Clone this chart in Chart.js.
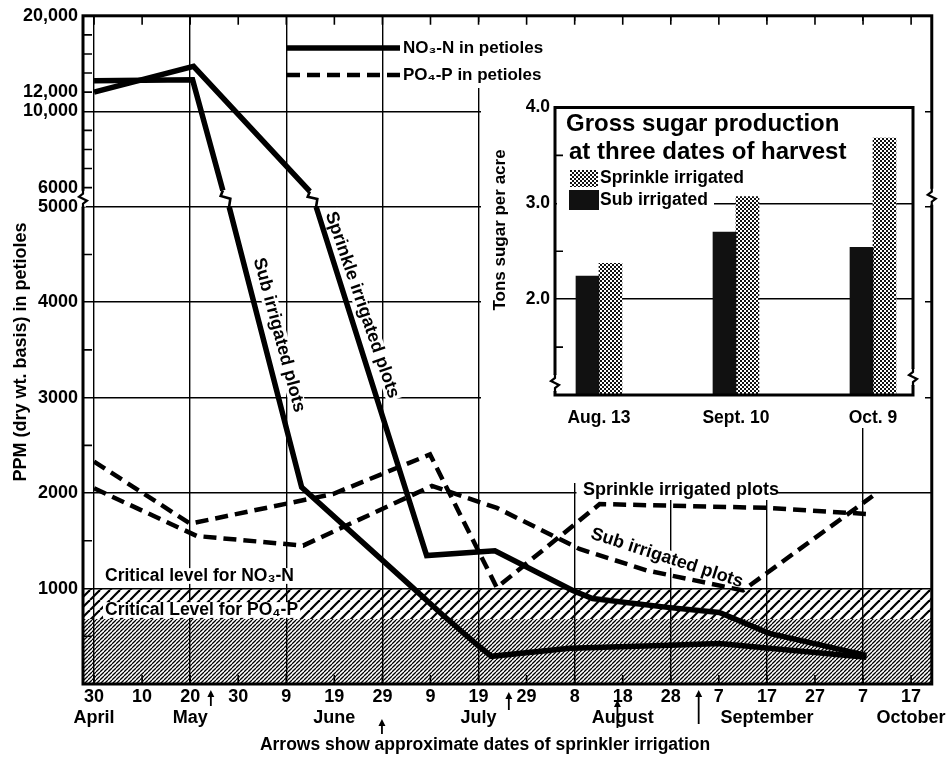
<!DOCTYPE html>
<html><head><meta charset="utf-8">
<script src="https://cdn.jsdelivr.net/npm/chart.js@4.4.1/dist/chart.umd.min.js"></script>
<style>
html,body{margin:0;padding:0;background:#fff;}
#wrap{position:relative;width:948px;height:761px;overflow:hidden;}
#main{position:absolute;left:0;top:0;}
#inset{position:absolute;left:480px;top:92px;}
</style></head><body>
<div id="wrap"><canvas id="main" width="948" height="761"></canvas><canvas id="inset" width="448" height="336"></canvas></div>
<script>
// ---------------- DATA (main chart) ----------------
// x = days after 30 April
const X_TICK_DAYS = [0,10,20,30,40,50,60,70,80,90,100,110,120,130,140,150,160,170];
const X_DAY_LABELS = ['30','10','20','30','9','19','29','9','19','29','8','18','28','7','17','27','7','17'];
const X_MONTH_LABELS = ['April','','May','','','June','','','July','','','August','','','September','','','October'];
const X_GRID_DAYS = [0,20,40,60,80,100,120,140,160];
const Y_LABEL_VALUES = [1000,2000,3000,4000,5000,6000,10000,12000,20000];
const Y_LABELS = ['1000','2000','3000','4000','5000','6000','10,000','12,000','20,000'];
const Y_GRID_VALUES = [1000,2000,3000,4000,5000,10000];
const Y_MINOR_VALUES = [500,1500,2500,3500,4500,6000,7000,8000,9000,12000,14000,16000,18000];
const Y_SEGMENTS = [[0,5000],[5000,10000],[10000,20000]]; // broken axis
const Y_SEGMENT_WEIGHTS = [5,1,1];                           // relative heights
const Y_BREAK = 5000;
const CRIT_NO3 = 1000;
const CRIT_PO4 = 680;

const NO3_SUB_DAYS = [0,20.5,26.8,28.1,43.2,66.3,72.6,80.2,82.7,99,119.8,130.1,140.5,160.7];
const NO3_SUB_PPM  = [13200,13300,5850,5000,2060,1010,720,390,290,375,405,425,375,280];
const NO3_SPR_DAYS = [0,20.7,44.9,46.2,69.2,83.4,99.6,103.7,119.8,130.1,140.5,160.7];
const NO3_SPR_PPM  = [12000,14700,5800,5000,1345,1395,980,895,800,750,530,300];
const PO4_SPR_DAYS = [0,20,49.7,69.9,83.8,105.2,139.9,161.3];
const PO4_SPR_PPM  = [2330,1680,1990,2405,1010,1885,1845,1780];
const PO4_SUB_DAYS = [0,21.4,43.5,70.3,83.8,101,115,135,162];
const PO4_SUB_PPM  = [2050,1550,1450,2075,1845,1415,1190,980,1970];
const LEGEND_LABELS = ['NO₃-N in petioles','PO₄-P in petioles'];

const SPRINKLER_DAYS = [24.3,59.9,86.3,108.9,125.8];

// ---------------- DATA (inset) ----------------
const HARVEST_DATES = ['Aug. 13','Sept. 10','Oct. 9'];
const SUGAR_SUB = [2.24,2.70,2.54];
const SUGAR_SPRINKLE = [2.375,3.07,3.68];
const INSET_Y_TICKS = [1.5,2.0,2.5,3.0,3.5,4.0];
const INSET_Y_LABELED = [2.0,3.0,4.0];
const INSET_Y_GRID = [2.0,3.0];
const INSET_LEGEND = ['Sprinkle irrigated','Sub irrigated'];
const INSET_TITLE = ['Gross sugar production','at three dates of harvest'];

// ---------------- STYLE / LAYOUT ----------------
const FONT = '"Liberation Sans", Arial, "DejaVu Sans", sans-serif';
const font = s => `bold ${s}px ${FONT}`;
const ARROW_SPANS = [[690,706],[719,734],[692,710],[700,728],[690,724]]; // tip,tail y (px)
const ANNOTATIONS = [
  {text:'Sub irrigated plots', x:279, y:335, angle:75, size:18, align:'center'},
  {text:'Sprinkle irrigated plots', x:362, y:305, angle:71, size:18, align:'center'},
  {text:'Sprinkle irrigated plots', x:583, y:490, angle:0, size:18, align:'left', nobg:true},
  {text:'Sub irrigated plots', x:667, y:558, angle:18, size:18, align:'center'},
  {text:'Critical level for NO₃-N', x:105, y:576, angle:0, size:17.5, align:'left'},
  {text:'Critical Level for PO₄-P', x:105, y:610, angle:0, size:17.5, align:'left'},
];

const zip = (xs, ys) => xs.map((x,i) => ({x, y: ys[i]}));
const W_TOTAL = Y_SEGMENT_WEIGHTS.reduce((s,w) => s+w, 0);

function toT(v){
  let acc = 0;
  for (let i=0;i<Y_SEGMENTS.length;i++){
    const [lo,hi] = Y_SEGMENTS[i], w = Y_SEGMENT_WEIGHTS[i];
    if (v <= hi || i === Y_SEGMENTS.length-1) return acc + w*(v-lo)/(hi-lo);
    acc += w;
  }
}
function fromT(t){
  let acc = 0;
  for (let i=0;i<Y_SEGMENTS.length;i++){
    const [lo,hi] = Y_SEGMENTS[i], w = Y_SEGMENT_WEIGHTS[i];
    if (t <= acc + w || i === Y_SEGMENTS.length-1) return lo + (t-acc)/w*(hi-lo);
    acc += w;
  }
}
class BrokenScale extends Chart.LinearScale {
  static id = 'broken';
  static defaults = Chart.LinearScale.defaults;
  determineDataLimits(){ this.min = 0; this.max = W_TOTAL; }
  buildTicks(){ return Y_LABEL_VALUES.map(v => ({value:v})); }
  getPixelForValue(v){ return v == null ? NaN : super.getPixelForValue(toT(v)); }
  getValueForPixel(p){ return fromT(super.getValueForPixel(p)); }
}
Chart.register(BrokenScale);

const mainCanvas = document.getElementById('main');
const mctx = mainCanvas.getContext('2d');
const insetCanvas = document.getElementById('inset');
const ictx = insetCanvas.getContext('2d');

function hatch(ctx, p, lw){
  const c = document.createElement('canvas'); c.width = c.height = p;
  const g = c.getContext('2d'); g.strokeStyle = '#000'; g.lineWidth = lw;
  for (let k=-1;k<=1;k++){ g.beginPath(); g.moveTo(k*p, p); g.lineTo(k*p+p, 0); g.stroke(); }
  return ctx.createPattern(c, 'repeat');
}
function stipple(ctx){
  const c = document.createElement('canvas'); c.width = c.height = 4;
  const g = c.getContext('2d'); g.fillStyle = '#fff'; g.fillRect(0,0,4,4);
  g.fillStyle = '#111'; g.fillRect(0,0,2,2); g.fillRect(2,2,2,2);
  return ctx.createPattern(c, 'repeat');
}
const lightHatch = hatch(mctx, 10, 2.2);
const darkHatch = hatch(mctx, 4, 1.25);
const stip = stipple(ictx);

function axisZig(ctx, x, y){
  ctx.save();
  ctx.fillStyle = '#fff'; ctx.fillRect(x-3, y-8, 6, 16);
  ctx.strokeStyle = '#000'; ctx.lineWidth = 2.2; ctx.lineJoin = 'miter';
  ctx.beginPath();
  ctx.moveTo(x, y-9); ctx.lineTo(x, y-5); ctx.lineTo(x-4, y-2); ctx.lineTo(x+4, y+2); ctx.lineTo(x, y+5); ctx.lineTo(x, y+9);
  ctx.stroke(); ctx.restore();
}
function lineZig(ctx, p1, p2){
  const dx = p2.x-p1.x, dy = p2.y-p1.y, L = Math.hypot(dx,dy) || 1;
  const nx = -dy/L, ny = dx/L;
  ctx.save(); ctx.strokeStyle = '#000'; ctx.lineWidth = 2.6;
  ctx.beginPath();
  ctx.moveTo(p1.x, p1.y);
  ctx.lineTo(p1.x + dx*0.25 + nx*4, p1.y + dy*0.25 + ny*4);
  ctx.lineTo(p1.x + dx*0.6 - nx*4, p1.y + dy*0.6 - ny*4);
  ctx.lineTo(p2.x, p2.y);
  ctx.stroke(); ctx.restore();
}
function drawLabel(ctx, a, phase){
  ctx.save();
  ctx.translate(a.x, a.y); ctx.rotate((a.angle||0)*Math.PI/180);
  ctx.font = font(a.size); ctx.textAlign = a.align || 'left'; ctx.textBaseline = 'middle';
  const w = ctx.measureText(a.text).width;
  if (phase === 'bg'){
    if (!a.nobg){
      const x0 = a.align === 'center' ? -w/2 : a.align === 'right' ? -w : 0;
      ctx.fillStyle = '#fff'; ctx.fillRect(x0-2, -a.size*0.45, w+4, a.size*0.9);
    }
  } else { ctx.fillStyle = '#000'; ctx.fillText(a.text, 0, 0); }
  ctx.restore();
}

const isBreak = c => c.p0.parsed.y > Y_BREAK && c.p1.parsed.y <= Y_BREAK;

const mainDeco = {
  id: 'mainDeco',
  beforeDraw(chart){
    const {ctx, chartArea:a, scales:{y}} = chart;
    ctx.save();
    ctx.fillStyle = '#fff'; ctx.fillRect(0,0,chart.width,chart.height);
    const yN = y.getPixelForValue(CRIT_NO3), yP = y.getPixelForValue(CRIT_PO4), y0 = y.getPixelForValue(0);
    ctx.fillStyle = lightHatch; ctx.fillRect(a.left, yN, a.right-a.left, y0-yN);
    ctx.fillStyle = '#fff'; ctx.fillRect(a.left, yP, a.right-a.left, y0-yP);
    ctx.fillStyle = darkHatch; ctx.fillRect(a.left, yP, a.right-a.left, y0-yP);
    ctx.restore();
  },
  beforeDatasetsDraw(chart){
    const {ctx, chartArea:a, scales:{x,y}} = chart;
    ctx.save();
    ctx.fillStyle = '#fff';
    ctx.fillRect(400, 22, 160, 66);     // legend text area
    ctx.fillRect(481, 21, 444, 407);    // inset area
    ctx.fillRect(565, 428, 213, 55);    // label area
    ctx.fillRect(576.5, 483, 201.5, 17);
    ANNOTATIONS.forEach(an => drawLabel(ctx, an, 'bg'));
    // minor ticks
    ctx.strokeStyle = '#000'; ctx.lineWidth = 1.6;
    ctx.beginPath();
    Y_MINOR_VALUES.forEach(v => { const py = y.getPixelForValue(v); ctx.moveTo(a.left, py); ctx.lineTo(a.left+9, py); });
    X_TICK_DAYS.forEach(d => { const px = x.getPixelForValue(d);
      ctx.moveTo(px, a.top); ctx.lineTo(px, a.top+9);
      ctx.moveTo(px, a.bottom); ctx.lineTo(px, a.bottom-9); });
    ctx.stroke();
    // frame
    ctx.lineWidth = 3; ctx.strokeRect(a.left, a.top, a.right-a.left, a.bottom-a.top);
    const yb = y.getPixelForValue(Y_BREAK) - 8;
    axisZig(ctx, a.left, yb);
    axisZig(ctx, a.right, yb - 2);
    ctx.restore();
  },
  afterDatasetsDraw(chart){
    const {ctx, chartArea:a, scales:{x,y}} = chart;
    ctx.save();
    // break marks on the lines
    chart.data.datasets.forEach((ds, di) => {
      if (ds.borderDash && ds.borderDash.length) return;
      const pts = chart.getDatasetMeta(di).data;
      for (let i=1;i<ds.data.length;i++){
        if (ds.data[i-1].y > Y_BREAK && ds.data[i].y <= Y_BREAK) lineZig(ctx, pts[i-1], pts[i]);
      }
    });
    ANNOTATIONS.forEach(an => drawLabel(ctx, an, 'fg'));
    // legend
    const dsN = chart.data.datasets[0], dsP = chart.data.datasets[2];
    [[dsN, 48, LEGEND_LABELS[0]], [dsP, 75, LEGEND_LABELS[1]]].forEach(([ds, ly, txt]) => {
      ctx.save(); ctx.strokeStyle = ds.borderColor; ctx.lineWidth = ds.borderWidth;
      ctx.setLineDash(ds.borderDash || []);
      ctx.beginPath(); ctx.moveTo(287, ly); ctx.lineTo(400, ly); ctx.stroke(); ctx.restore();
      ctx.font = font(17); ctx.fillStyle = '#000'; ctx.textBaseline = 'middle'; ctx.textAlign = 'left';
      ctx.fillText(txt, 403, ly);
    });
    // arrows for sprinkler irrigation
    ctx.strokeStyle = '#000'; ctx.fillStyle = '#000'; ctx.lineWidth = 1.8;
    SPRINKLER_DAYS.forEach((d, i) => {
      const px = x.getPixelForValue(d), [tip, tail] = ARROW_SPANS[i];
      ctx.beginPath(); ctx.moveTo(px, tail); ctx.lineTo(px, tip+4); ctx.stroke();
      ctx.beginPath(); ctx.moveTo(px, tip); ctx.lineTo(px-3.5, tip+7); ctx.lineTo(px+3.5, tip+7); ctx.closePath(); ctx.fill();
    });
    // axis titles
    ctx.font = font(17.5); ctx.textAlign = 'center'; ctx.textBaseline = 'middle';
    ctx.fillText('Arrows show approximate dates of sprinkler irrigation', 485, 745);
    ctx.save(); ctx.translate(21, 352); ctx.rotate(-Math.PI/2);
    ctx.font = font(18); ctx.fillText('PPM (dry wt. basis) in petioles', 0, 0); ctx.restore();
    ctx.restore();
  }
};

const solid = {borderColor:'#000', borderWidth:5.5, borderDash:[], segment:{borderColor: c => isBreak(c) ? 'rgba(0,0,0,0)' : undefined}};
const dashed = {borderColor:'#000', borderWidth:4.5, borderDash:[13,7]};

new Chart(mainCanvas, {
  type: 'line',
  data: { datasets: [
    Object.assign({label:'NO3-N sub irrigated', data: zip(NO3_SUB_DAYS, NO3_SUB_PPM)}, solid),
    Object.assign({label:'NO3-N sprinkle irrigated', data: zip(NO3_SPR_DAYS, NO3_SPR_PPM)}, solid),
    Object.assign({label:'PO4-P sprinkle irrigated', data: zip(PO4_SPR_DAYS, PO4_SPR_PPM)}, dashed),
    Object.assign({label:'PO4-P sub irrigated', data: zip(PO4_SUB_DAYS, PO4_SUB_PPM)}, dashed),
  ]},
  options: {
    responsive:false, animation:false, devicePixelRatio:1,
    layout:{padding:{top:12, right:16, left:0, bottom:0}},
    plugins:{legend:{display:false}, tooltip:{enabled:false}},
    elements:{point:{radius:0, hoverRadius:0}, line:{tension:0, borderCapStyle:'butt', borderJoinStyle:'miter', fill:false}},
    scales:{
      x:{type:'linear', min:-2.3, max:174.3,
        afterBuildTicks: s => { s.ticks = X_TICK_DAYS.map(v => ({value:v})); },
        afterFit: s => { s.height = 77; },
        ticks:{autoSkip:false, maxRotation:0, minRotation:0, padding:2, color:'#000',
          font:{family:FONT, size:18, weight:'bold'}, lineHeight:1.18,
          callback: v => { const i = X_TICK_DAYS.indexOf(v); if (i<0) return '';
            return X_MONTH_LABELS[i] ? [X_DAY_LABELS[i], X_MONTH_LABELS[i]] : X_DAY_LABELS[i]; }},
        grid:{drawTicks:false, lineWidth:1.4, color: c => (c.tick && X_GRID_DAYS.includes(c.tick.value)) ? '#000' : 'rgba(0,0,0,0)'},
        border:{display:false}
      },
      y:{type:'broken', position:'left',
        afterFit: s => { s.width = 83; },
        ticks:{autoSkip:false, padding:5, color:'#000', font:{family:FONT, size:18, weight:'bold'},
          callback: v => { const i = Y_LABEL_VALUES.indexOf(v); return i<0 ? '' : Y_LABELS[i]; }},
        grid:{drawTicks:false, lineWidth:1.4, color: c => (c.tick && Y_GRID_VALUES.includes(c.tick.value)) ? '#000' : 'rgba(0,0,0,0)'},
        border:{display:false}
      }
    }
  },
  plugins:[mainDeco]
});

// ---------------- inset ----------------
const insetDeco = {
  id:'insetDeco',
  beforeDatasetsDraw(chart){
    const {ctx, chartArea:a, scales:{y}} = chart;
    ctx.save();
    ctx.fillStyle = '#fff'; ctx.fillRect(a.left+2, 70, 232-a.left, 52);
    ctx.strokeStyle = '#000'; ctx.lineWidth = 1.6; ctx.beginPath();
    INSET_Y_TICKS.filter(v => !INSET_Y_LABELED.includes(v)).forEach(v => { const py = y.getPixelForValue(v); ctx.moveTo(a.left, py); ctx.lineTo(a.left+8, py); });
    ctx.stroke(); ctx.restore();
  },
  afterDatasetsDraw(chart){
    const {ctx, chartArea:a} = chart;
    ctx.save();
    ctx.strokeStyle = '#000'; ctx.lineWidth = 3;
    ctx.strokeRect(a.left, a.top, a.right-a.left, a.bottom-a.top);
    axisZig(ctx, a.left, a.bottom-12);
    axisZig(ctx, a.right, a.bottom-18);
    ctx.fillStyle = '#000'; ctx.textBaseline = 'middle'; ctx.textAlign = 'left';
    ctx.font = font(24);
    ctx.fillText(INSET_TITLE[0], 86, 32);
    ctx.fillText(INSET_TITLE[1], 89, 60);
    const dsSub = chart.data.datasets[0], dsSpr = chart.data.datasets[1];
    ctx.fillStyle = dsSpr.backgroundColor; ctx.fillRect(90, 78, 28, 17);
    ctx.fillStyle = dsSub.backgroundColor; ctx.fillRect(89, 98, 30, 20);
    ctx.fillStyle = '#000'; ctx.font = font(17.5);
    ctx.fillText(INSET_LEGEND[0], 120, 86);
    ctx.fillText(INSET_LEGEND[1], 120, 108);
    ctx.save(); ctx.translate(20, 138); ctx.rotate(-Math.PI/2); ctx.textAlign = 'center';
    ctx.font = font(17); ctx.fillText('Tons sugar per acre', 0, 0); ctx.restore();
    ctx.restore();
  }
};

new Chart(insetCanvas, {
  type:'bar',
  data:{datasets:[
    {label:INSET_LEGEND[1], data: SUGAR_SUB.map((v,i) => ({x:i, y:v})), backgroundColor:'#111', barThickness:23, borderWidth:0},
    {label:INSET_LEGEND[0], data: SUGAR_SPRINKLE.map((v,i) => ({x:i, y:v})), backgroundColor:stip, barThickness:23, borderWidth:0},
  ]},
  options:{
    responsive:false, animation:false, devicePixelRatio:1,
    layout:{padding:{top:15, right:15, left:0, bottom:0}},
    plugins:{legend:{display:false}, tooltip:{enabled:false}},
    scales:{
      x:{type:'linear', min:-0.321, max:2.292, offset:false,
        afterBuildTicks: s => { s.ticks = HARVEST_DATES.map((d,i) => ({value:i})); },
        afterFit: s => { s.height = 33; },
        ticks:{autoSkip:false, maxRotation:0, minRotation:0, padding:5, color:'#000',
          font:{family:FONT, size:17.5, weight:'bold'}, callback: v => HARVEST_DATES[v] ?? ''},
        grid:{display:false}, border:{display:false}
      },
      y:{type:'linear', min:1, max:4, beginAtZero:false,
        afterBuildTicks: s => { s.ticks = INSET_Y_TICKS.map(v => ({value:v})); },
        afterFit: s => { s.width = 75; },
        ticks:{autoSkip:false, padding:5, color:'#000', font:{family:FONT, size:17.5, weight:'bold'},
          callback: v => INSET_Y_LABELED.includes(v) ? v.toFixed(1) : ''},
        grid:{drawTicks:false, lineWidth:1.4, color: c => (c.tick && INSET_Y_GRID.includes(c.tick.value)) ? '#000' : 'rgba(0,0,0,0)'},
        border:{display:false}
      }
    }
  },
  plugins:[insetDeco]
});
</script></body></html>
